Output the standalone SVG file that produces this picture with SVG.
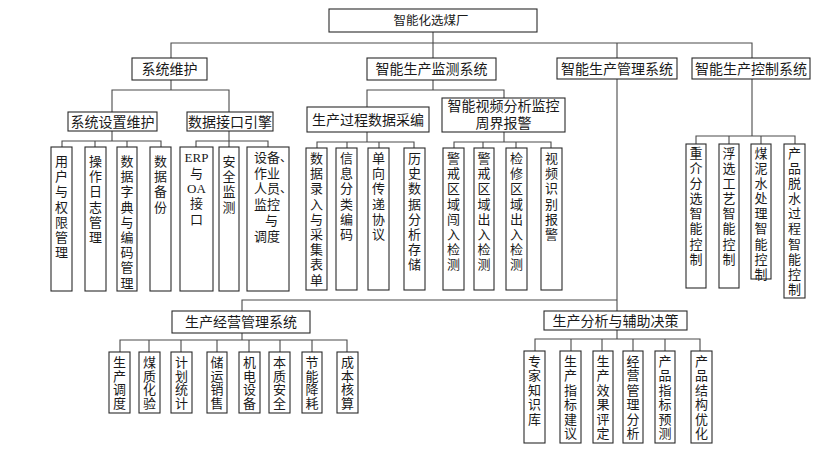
<svg xmlns="http://www.w3.org/2000/svg" width="832" height="450" viewBox="0 0 832 450">
<style>
.box{fill:#fff;stroke:#2a2a2a;stroke-width:1.1}
.con{fill:none;stroke:#4a4a4a;stroke-width:1.1}
text{font-family:"Noto Sans CJK SC","Noto Sans CJK JP",sans-serif;fill:#1a1a1a;text-anchor:middle}
.h{font-size:14px}
.r{font-size:12.5px}
.vt{font-size:13px;writing-mode:vertical-rl;text-orientation:upright;text-anchor:start}
.lat{font-family:"Liberation Serif",serif;font-size:13px}
.cm{font-size:12px;text-anchor:start}
</style>
<rect width="832" height="450" fill="#fff"/>
<g id="connectors" class="con">
<path d="M433,32V58M171,58V43H752V58M617,43V58"/>
<path d="M171,80V90M112,112V90H229V112"/>
<path d="M433,80V90M367,107V90H504V98"/>
<path d="M112,131V141M62,147V141H161V147M95,141V147M127,141V147"/>
<path d="M229,131V147M196,147V141H268V147"/>
<path d="M367,132V142M317,148V142H414V148M347,142V148M379,142V148"/>
<path d="M504,132V142M454,148V142H551V148M483,142V148M516,142V148"/>
<path d="M752,79V136M696,144V136H795V144M729,136V144M761,136V144"/>
<path d="M617,79V311M242,311V300H617"/>
<path d="M242,333V340M120,352V340H347V352M149,340V352M181,340V352M217,340V352M249,340V352M280,340V352M312,340V352"/>
<path d="M617,330V339M535,351V339H700V351M571,339V351M602,339V351M633,339V351M665,339V351"/>
</g>
<g id="root"><rect class="box" x="329" y="9" width="208" height="23"/><text class="r" x="431" y="25">智能化选煤厂</text></g>
<g id="n-xtwh"><rect class="box" x="132" y="58" width="75" height="22"/><text class="h" x="169.5" y="74">系统维护</text></g>
<g id="n-jcxt"><rect class="box" x="367" y="58" width="129" height="22"/><text class="h" x="431.5" y="74">智能生产监测系统</text></g>
<g id="n-glxt"><rect class="box" x="557" y="58" width="120" height="21"/><text class="h" x="617" y="73.5">智能生产管理系统</text></g>
<g id="n-kzxt"><rect class="box" x="692" y="58" width="118" height="21"/><text class="h" x="751" y="73.5">智能生产控制系统</text></g>
<g id="n-xtsz"><rect class="box" x="68" y="112" width="89" height="19"/><text class="h" x="112.5" y="126.5">系统设置维护</text></g>
<g id="n-sjjk"><rect class="box" x="187" y="112" width="86" height="19"/><text class="h" x="230" y="126.5">数据接口引擎</text></g>
<g id="n-scgc"><rect class="box" x="307" y="107" width="122" height="25"/><text class="h" x="368" y="124.5">生产过程数据采编</text></g>
<g id="n-spfx"><rect class="box" x="442" y="98" width="123" height="34"/><text class="h" x="503.5" y="111">智能视频分析监控</text><text class="h" x="503.5" y="127.5">周界报警</text></g>

<g id="l-yhqx"><rect class="box" x="51" y="147" width="21" height="144"/><text class="vt"><tspan x="61.5" y="154.5">用</tspan><tspan x="61.5" y="169.7">户</tspan><tspan x="61.5" y="184.9">与</tspan><tspan x="61.5" y="200.1">权</tspan><tspan x="61.5" y="215.3">限</tspan><tspan x="61.5" y="230.5">管</tspan><tspan x="61.5" y="245.7">理</tspan></text></g>
<g id="l-czrz"><rect class="box" x="85" y="147" width="21" height="144"/><text class="vt"><tspan x="95.5" y="154.5">操</tspan><tspan x="95.5" y="169.7">作</tspan><tspan x="95.5" y="184.9">日</tspan><tspan x="95.5" y="200.1">志</tspan><tspan x="95.5" y="215.3">管</tspan><tspan x="95.5" y="230.5">理</tspan></text></g>
<g id="l-sjzd"><rect class="box" x="117" y="147" width="20" height="144"/><text class="vt"><tspan x="127" y="154.5">数</tspan><tspan x="127" y="169.7">据</tspan><tspan x="127" y="184.9">字</tspan><tspan x="127" y="200.1">典</tspan><tspan x="127" y="215.3">与</tspan><tspan x="127" y="230.5">编</tspan><tspan x="127" y="245.7">码</tspan><tspan x="127" y="260.9">管</tspan><tspan x="127" y="276.1">理</tspan></text></g>
<g id="l-sjbf"><rect class="box" x="150" y="147" width="21" height="144"/><text class="vt"><tspan x="160.5" y="154.5">数</tspan><tspan x="160.5" y="169.7">据</tspan><tspan x="160.5" y="184.9">备</tspan><tspan x="160.5" y="200.1">份</tspan></text></g>
<g id="l-erp"><rect class="box" x="180" y="147" width="33" height="144"/><text class="lat" x="196.5" y="161.5">ERP</text><text class="vt" x="196.5" y="166.5">与</text><text class="lat" x="196.5" y="193">OA</text><text class="vt"><tspan x="196.5" y="197">接</tspan><tspan x="196.5" y="213">口</tspan></text></g>
<g id="l-aqjc"><rect class="box" x="219" y="147" width="20" height="144"/><text class="vt"><tspan x="229" y="154.5">安</tspan><tspan x="229" y="169.7">全</tspan><tspan x="229" y="184.9">监</tspan><tspan x="229" y="200.1">测</tspan></text></g>
<g id="l-sbzy"><rect class="box" x="247" y="147" width="42" height="144"/><text class="vt"><tspan x="260.5" y="150.5">设</tspan><tspan x="273.5" y="150.5">备</tspan><tspan x="260.5" y="166.2">作</tspan><tspan x="273.5" y="166.2">业</tspan><tspan x="260.5" y="181.9">人</tspan><tspan x="273.5" y="181.9">员</tspan><tspan x="260.5" y="197.6">监</tspan><tspan x="273.5" y="197.6">控</tspan><tspan x="271.5" y="213.5">与</tspan><tspan x="260.5" y="229.5">调</tspan><tspan x="273.5" y="229.5">度</tspan></text><text class="cm" x="280" y="162">、</text><text class="cm" x="280" y="193">、</text></g>

<g id="l-sjlr"><rect class="box" x="306" y="148" width="21" height="142"/><text class="vt"><tspan x="316.5" y="151.5">数</tspan><tspan x="316.5" y="166.7">据</tspan><tspan x="316.5" y="181.9">录</tspan><tspan x="316.5" y="197.1">入</tspan><tspan x="316.5" y="212.3">与</tspan><tspan x="316.5" y="227.5">采</tspan><tspan x="316.5" y="242.7">集</tspan><tspan x="316.5" y="257.9">表</tspan><tspan x="316.5" y="273.1">单</tspan></text></g>
<g id="l-xxfl"><rect class="box" x="336" y="148" width="21" height="142"/><text class="vt"><tspan x="346.5" y="151.5">信</tspan><tspan x="346.5" y="166.7">息</tspan><tspan x="346.5" y="181.9">分</tspan><tspan x="346.5" y="197.1">类</tspan><tspan x="346.5" y="212.3">编</tspan><tspan x="346.5" y="227.5">码</tspan></text></g>
<g id="l-dxcd"><rect class="box" x="368" y="148" width="21" height="142"/><text class="vt"><tspan x="378.5" y="151.5">单</tspan><tspan x="378.5" y="166.7">向</tspan><tspan x="378.5" y="181.9">传</tspan><tspan x="378.5" y="197.1">递</tspan><tspan x="378.5" y="212.3">协</tspan><tspan x="378.5" y="227.5">议</tspan></text></g>
<g id="l-lssj"><rect class="box" x="404" y="148" width="21" height="142"/><text class="vt"><tspan x="414.5" y="151.5">历</tspan><tspan x="414.5" y="166.7">史</tspan><tspan x="414.5" y="181.9">数</tspan><tspan x="414.5" y="197.1">据</tspan><tspan x="414.5" y="212.3">分</tspan><tspan x="414.5" y="227.5">析</tspan><tspan x="414.5" y="242.7">存</tspan><tspan x="414.5" y="257.9">储</tspan></text></g>
<g id="l-jjcr"><rect class="box" x="443" y="148" width="21" height="142"/><text class="vt"><tspan x="453.5" y="151.5">警</tspan><tspan x="453.5" y="166.7">戒</tspan><tspan x="453.5" y="181.9">区</tspan><tspan x="453.5" y="197.1">域</tspan><tspan x="453.5" y="212.3">闯</tspan><tspan x="453.5" y="227.5">入</tspan><tspan x="453.5" y="242.7">检</tspan><tspan x="453.5" y="257.9">测</tspan></text></g>
<g id="l-jjcr2"><rect class="box" x="474" y="148" width="20" height="142"/><text class="vt"><tspan x="484" y="151.5">警</tspan><tspan x="484" y="166.7">戒</tspan><tspan x="484" y="181.9">区</tspan><tspan x="484" y="197.1">域</tspan><tspan x="484" y="212.3">出</tspan><tspan x="484" y="227.5">入</tspan><tspan x="484" y="242.7">检</tspan><tspan x="484" y="257.9">测</tspan></text></g>
<g id="l-jxcr"><rect class="box" x="506" y="148" width="21" height="142"/><text class="vt"><tspan x="516.5" y="151.5">检</tspan><tspan x="516.5" y="166.7">修</tspan><tspan x="516.5" y="181.9">区</tspan><tspan x="516.5" y="197.1">域</tspan><tspan x="516.5" y="212.3">出</tspan><tspan x="516.5" y="227.5">入</tspan><tspan x="516.5" y="242.7">检</tspan><tspan x="516.5" y="257.9">测</tspan></text></g>
<g id="l-spsb"><rect class="box" x="541" y="148" width="21" height="142"/><text class="vt"><tspan x="551.5" y="151.5">视</tspan><tspan x="551.5" y="166.7">频</tspan><tspan x="551.5" y="181.9">识</tspan><tspan x="551.5" y="197.1">别</tspan><tspan x="551.5" y="212.3">报</tspan><tspan x="551.5" y="227.5">警</tspan></text></g>

<g id="l-zjfx"><rect class="box" x="686" y="144" width="20" height="144"/><text class="vt"><tspan x="696" y="146.5">重</tspan><tspan x="696" y="161.6">介</tspan><tspan x="696" y="176.7">分</tspan><tspan x="696" y="191.8">选</tspan><tspan x="696" y="206.9">智</tspan><tspan x="696" y="222">能</tspan><tspan x="696" y="237.1">控</tspan><tspan x="696" y="252.2">制</tspan></text></g>
<g id="l-fxgy"><rect class="box" x="719" y="144" width="20" height="144"/><text class="vt"><tspan x="729" y="146.5">浮</tspan><tspan x="729" y="161.6">选</tspan><tspan x="729" y="176.7">工</tspan><tspan x="729" y="191.8">艺</tspan><tspan x="729" y="206.9">智</tspan><tspan x="729" y="222">能</tspan><tspan x="729" y="237.1">控</tspan><tspan x="729" y="252.2">制</tspan></text></g>
<g id="l-mns"><rect class="box" x="751" y="144" width="20" height="135"/><text class="vt"><tspan x="761" y="146.5">煤</tspan><tspan x="761" y="161.6">泥</tspan><tspan x="761" y="176.7">水</tspan><tspan x="761" y="191.8">处</tspan><tspan x="761" y="206.9">理</tspan><tspan x="761" y="222">智</tspan><tspan x="761" y="237.1">能</tspan><tspan x="761" y="252.2">控</tspan><tspan x="761" y="267.3">制</tspan></text></g>
<g id="l-cptc"><rect class="box" x="784" y="144" width="21" height="154"/><text class="vt"><tspan x="794.5" y="146.5">产</tspan><tspan x="794.5" y="161.6">品</tspan><tspan x="794.5" y="176.7">脱</tspan><tspan x="794.5" y="191.8">水</tspan><tspan x="794.5" y="206.9">过</tspan><tspan x="794.5" y="222">程</tspan><tspan x="794.5" y="237.1">智</tspan><tspan x="794.5" y="252.2">能</tspan><tspan x="794.5" y="267.3">控</tspan><tspan x="794.5" y="282.4">制</tspan></text></g>

<g id="n-scjy"><rect class="box" x="172" y="311" width="138" height="22"/><text class="h" x="241" y="327">生产经营管理系统</text></g>
<g id="n-scfx"><rect class="box" x="544" y="311" width="143" height="19"/><text class="h" x="615.5" y="325.5">生产分析与辅助决策</text></g>

<g id="l-scdd"><rect class="box" x="109" y="352" width="21" height="61"/><text class="vt"><tspan x="119.5" y="355.5">生</tspan><tspan x="119.5" y="369.2">产</tspan><tspan x="119.5" y="382.9">调</tspan><tspan x="119.5" y="396.6">度</tspan></text></g>
<g id="l-mzhy"><rect class="box" x="139" y="352" width="21" height="61"/><text class="vt"><tspan x="149.5" y="355.5">煤</tspan><tspan x="149.5" y="369.2">质</tspan><tspan x="149.5" y="382.9">化</tspan><tspan x="149.5" y="396.6">验</tspan></text></g>
<g id="l-jhtj"><rect class="box" x="171" y="352" width="21" height="61"/><text class="vt"><tspan x="181.5" y="355.5">计</tspan><tspan x="181.5" y="369.2">划</tspan><tspan x="181.5" y="382.9">统</tspan><tspan x="181.5" y="396.6">计</tspan></text></g>
<g id="l-cyxs"><rect class="box" x="207" y="352" width="20" height="61"/><text class="vt"><tspan x="217" y="355.5">储</tspan><tspan x="217" y="369.2">运</tspan><tspan x="217" y="382.9">销</tspan><tspan x="217" y="396.6">售</tspan></text></g>
<g id="l-jdsb"><rect class="box" x="239" y="352" width="21" height="61"/><text class="vt"><tspan x="249.5" y="355.5">机</tspan><tspan x="249.5" y="369.2">电</tspan><tspan x="249.5" y="382.9">设</tspan><tspan x="249.5" y="396.6">备</tspan></text></g>
<g id="l-bzaq"><rect class="box" x="269" y="352" width="21" height="61"/><text class="vt"><tspan x="279.5" y="355.5">本</tspan><tspan x="279.5" y="369.2">质</tspan><tspan x="279.5" y="382.9">安</tspan><tspan x="279.5" y="396.6">全</tspan></text></g>
<g id="l-jnjh"><rect class="box" x="302" y="352" width="20" height="61"/><text class="vt"><tspan x="312" y="355.5">节</tspan><tspan x="312" y="369.2">能</tspan><tspan x="312" y="382.9">降</tspan><tspan x="312" y="396.6">耗</tspan></text></g>
<g id="l-cbhs"><rect class="box" x="337" y="352" width="21" height="61"/><text class="vt"><tspan x="347.5" y="355.5">成</tspan><tspan x="347.5" y="369.2">本</tspan><tspan x="347.5" y="382.9">核</tspan><tspan x="347.5" y="396.6">算</tspan></text></g>

<g id="l-zjzs"><rect class="box" x="524" y="351" width="21" height="92"/><text class="vt"><tspan x="534.5" y="354.5">专</tspan><tspan x="534.5" y="368.9">家</tspan><tspan x="534.5" y="383.3">知</tspan><tspan x="534.5" y="397.7">识</tspan><tspan x="534.5" y="412.1">库</tspan></text></g>
<g id="l-sczb"><rect class="box" x="560" y="351" width="21" height="92"/><text class="vt"><tspan x="570.5" y="354.5">生</tspan><tspan x="570.5" y="368.9">产</tspan><tspan x="570.5" y="383.3">指</tspan><tspan x="570.5" y="397.7">标</tspan><tspan x="570.5" y="412.1">建</tspan><tspan x="570.5" y="426.5">议</tspan></text></g>
<g id="l-scxg"><rect class="box" x="593" y="351" width="20" height="92"/><text class="vt"><tspan x="603" y="354.5">生</tspan><tspan x="603" y="368.9">产</tspan><tspan x="603" y="383.3">效</tspan><tspan x="603" y="397.7">果</tspan><tspan x="603" y="412.1">评</tspan><tspan x="603" y="426.5">定</tspan></text></g>
<g id="l-jygl"><rect class="box" x="623" y="351" width="20" height="92"/><text class="vt"><tspan x="633" y="354.5">经</tspan><tspan x="633" y="368.9">营</tspan><tspan x="633" y="383.3">管</tspan><tspan x="633" y="397.7">理</tspan><tspan x="633" y="412.1">分</tspan><tspan x="633" y="426.5">析</tspan></text></g>
<g id="l-cpzb"><rect class="box" x="655" y="351" width="20" height="92"/><text class="vt"><tspan x="665" y="354.5">产</tspan><tspan x="665" y="368.9">品</tspan><tspan x="665" y="383.3">指</tspan><tspan x="665" y="397.7">标</tspan><tspan x="665" y="412.1">预</tspan><tspan x="665" y="426.5">测</tspan></text></g>
<g id="l-cpjg"><rect class="box" x="691" y="351" width="21" height="92"/><text class="vt"><tspan x="701.5" y="354.5">产</tspan><tspan x="701.5" y="368.9">品</tspan><tspan x="701.5" y="383.3">结</tspan><tspan x="701.5" y="397.7">构</tspan><tspan x="701.5" y="412.1">优</tspan><tspan x="701.5" y="426.5">化</tspan></text></g>
</svg>
